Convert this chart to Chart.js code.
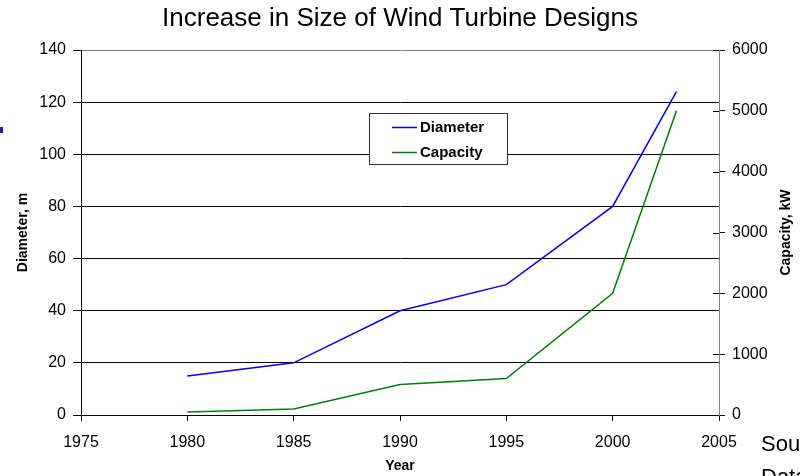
<!DOCTYPE html>
<html>
<head>
<meta charset="utf-8">
<script src="https://cdn.jsdelivr.net/npm/chart.js@4.4.1/dist/chart.umd.min.js"></script>
<style>
  html, body { margin: 0; padding: 0; background: #fff; overflow: hidden; width: 800px; height: 476px; }
  #wrap { position: relative; width: 800px; height: 476px; overflow: hidden; }
  canvas { position: absolute; left: 0; top: 0; }
  .note { position: absolute; left: 761px; top: 427px; font: 22px "Liberation Sans", Arial, sans-serif; line-height: 33px; color: #000; white-space: nowrap; }
  .mark { position: absolute; left: 0; top: 127px; width: 3px; height: 6px; background: #1c1ca8; }
</style>
</head>
<body>
<div id="wrap">
  <canvas id="c" width="800" height="476"></canvas>
  <div class="mark"></div>
  <div class="note">Source:<br>Data</div>
</div>
<script>
// Turbine generations: rotor diameter (m) and rated capacity (kW)
const years = [1980, 1985, 1990, 1995, 2000, 2003];
const diameterM = [15, 20, 40, 50, 80, 124];
const capacityKW = [50, 100, 500, 600, 2000, 5000];

const seriesNames = ['Diameter', 'Capacity'];
const seriesColors = ['#0000ff', '#008000'];

const chartTitle = 'Increase in Size of Wind Turbine Designs';
const xTitle = 'Year';
const yTitle = 'Diameter, m';
const y1Title = 'Capacity, kW';

const FONT = '"Liberation Sans", Arial, sans-serif';

// Titles, axis captions, legend box and the crossing tick marks on the right axis
const decorations = {
  id: 'decorations',
  afterDatasetsDraw(chart) {
    const { ctx, chartArea } = chart;
    const cx = (chartArea.left + chartArea.right) / 2;

    // inner half of the right-axis tick marks
    const y1 = chart.scales.y1;
    ctx.save();
    ctx.strokeStyle = '#000';
    ctx.lineWidth = 1;
    y1.ticks.forEach(t => {
      const py = Math.round(y1.getPixelForValue(t.value)) + 0.5;
      ctx.beginPath();
      ctx.moveTo(chartArea.right - 6, py);
      ctx.lineTo(chartArea.right, py);
      ctx.stroke();
    });

    // legend box
    const lx = 369.5, ly = 113.5, lw = 138, lh = 51;
    ctx.fillStyle = '#fff';
    ctx.fillRect(lx, ly, lw, lh);
    ctx.strokeStyle = '#333';
    ctx.strokeRect(lx, ly, lw, lh);
    ctx.font = 'bold 15px ' + FONT;
    ctx.textBaseline = 'middle';
    ctx.textAlign = 'left';
    chart.data.datasets.forEach((ds, i) => {
      const rowY = 127 + i * 25;
      ctx.strokeStyle = ds.borderColor;
      ctx.lineWidth = 1.5;
      ctx.beginPath();
      ctx.moveTo(392, rowY + 0.5);
      ctx.lineTo(417, rowY + 0.5);
      ctx.stroke();
      ctx.fillStyle = '#000';
      ctx.fillText(ds.label, 420, rowY + 1);
    });

    // chart title
    ctx.fillStyle = '#000';
    ctx.font = '26px ' + FONT;
    ctx.textAlign = 'center';
    ctx.fillText(chartTitle, 400, 19);

    // axis captions
    ctx.font = 'bold 14px ' + FONT;
    ctx.fillText(xTitle, cx, 466);

    ctx.save();
    ctx.translate(23, (chartArea.top + chartArea.bottom) / 2);
    ctx.rotate(-Math.PI / 2);
    ctx.fillText(yTitle, 0, 0);
    ctx.restore();

    ctx.save();
    ctx.translate(786, (chartArea.top + chartArea.bottom) / 2);
    ctx.rotate(-Math.PI / 2);
    ctx.fillText(y1Title, 0, 0);
    ctx.restore();

    ctx.restore();
  }
};

const tickFont = { family: FONT, size: 16 };

new Chart(document.getElementById('c'), {
  type: 'line',
  data: {
    datasets: [
      {
        label: seriesNames[0],
        data: years.map((x, i) => ({ x, y: diameterM[i] })),
        borderColor: seriesColors[0],
        borderWidth: 1.5,
        pointRadius: 0,
        tension: 0,
        yAxisID: 'y'
      },
      {
        label: seriesNames[1],
        data: years.map((x, i) => ({ x, y: capacityKW[i] })),
        borderColor: seriesColors[1],
        borderWidth: 1.5,
        pointRadius: 0,
        tension: 0,
        yAxisID: 'y1'
      }
    ]
  },
  options: {
    responsive: false,
    animation: false,
    devicePixelRatio: 1,
    layout: { padding: { top: 50, left: 0, right: 0, bottom: 0 } },
    plugins: {
      legend: { display: false },
      title: { display: false },
      tooltip: { enabled: false }
    },
    scales: {
      x: {
        type: 'linear',
        min: 1975,
        max: 2005,
        ticks: { stepSize: 5, color: '#000', font: tickFont, padding: 12, maxRotation: 0, callback: v => String(v) },
        grid: { drawOnChartArea: false, color: '#000', tickLength: 6 },
        border: { color: '#000' },
        afterFit(s) { s.height = 61; }
      },
      y: {
        position: 'left',
        min: 0,
        max: 140,
        ticks: { stepSize: 20, color: '#000', font: tickFont, padding: 7 },
        grid: {
          color: c => (c.tick && c.tick.value === 140 ? '#808080' : '#000'),
          tickColor: '#000',
          tickLength: 8
        },
        border: { color: '#000' },
        afterFit(s) { s.width = 81; }
      },
      y1: {
        position: 'right',
        min: 0,
        max: 6000,
        ticks: { stepSize: 1000, color: '#000', font: tickFont, padding: 7, callback: v => String(v) },
        grid: { drawOnChartArea: false, color: '#000', tickLength: 6 },
        border: { color: '#808080' },
        afterFit(s) { s.width = 81; }
      }
    }
  },
  plugins: [decorations]
});
</script>
</body>
</html>
